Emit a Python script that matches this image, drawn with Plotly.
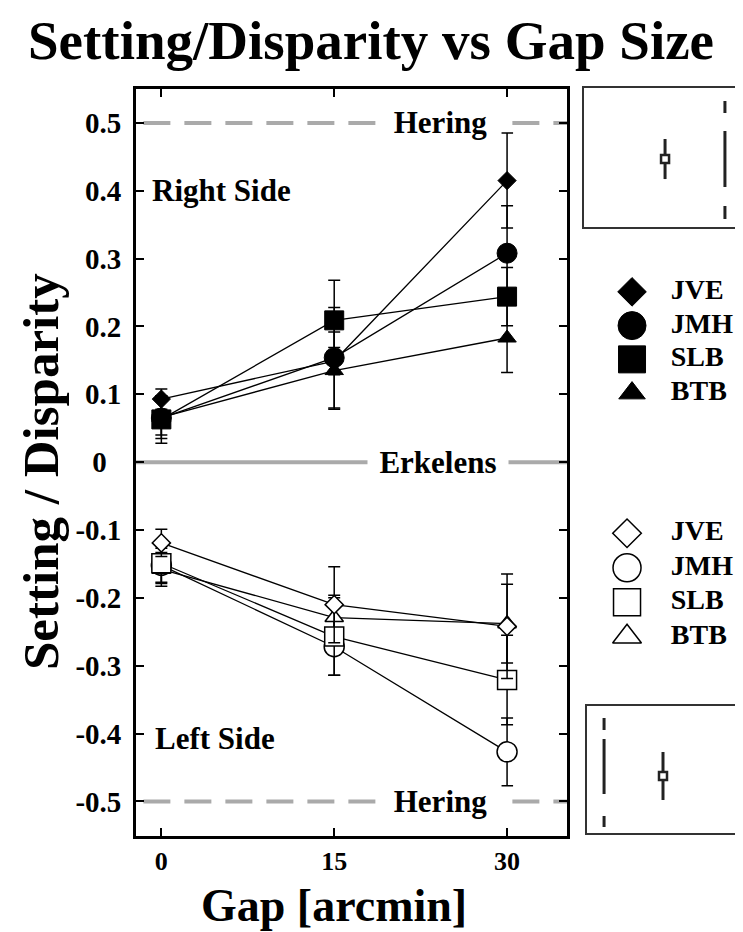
import plotly.graph_objects as go

# ---------------- data ----------------
gap = [0, 15, 30]
subjects = ["JVE", "JMH", "SLB", "BTB"]

right_vals = {
    "JVE": [0.093, 0.149, 0.415],
    "JMH": [0.065, 0.154, 0.308],
    "SLB": [0.063, 0.209, 0.244],
    "BTB": [0.066, 0.135, 0.183],
}
right_err = {
    "JVE": [0.015, 0.020, 0.070],
    "JMH": [0.025, 0.074, 0.070],
    "SLB": [0.035, 0.059, 0.043],
    "BTB": [0.031, 0.057, 0.051],
}
left_vals = {
    "JVE": [-0.119, -0.210, -0.242],
    "JMH": [-0.152, -0.272, -0.427],
    "SLB": [-0.149, -0.257, -0.321],
    "BTB": [-0.158, -0.229, -0.238],
}
left_err = {
    "JVE": [0.020, 0.056, 0.077],
    "JMH": [0.025, 0.042, 0.050],
    "SLB": [0.030, 0.057, 0.066],
    "BTB": [0.025, 0.033, 0.058],
}
y_ticks = [0.5, 0.4, 0.3, 0.2, 0.1, 0, -0.1, -0.2, -0.3, -0.4, -0.5]
y_ticklabels = ["0.5", "0.4", "0.3", "0.2", "0.1", "0\u2007", "-0.1", "-0.2", "-0.3", "-0.4", "-0.5"]
x_ticklabels = ["0", "15", "30"]
hering_levels = [0.5, -0.5]
erkelens_level = 0

# inset schematics (fractions of each inset box)
inset_top_point = [0.513, 0.489]
inset_top_err = 0.144
inset_top_ref = [0.892, 0.058, 0.906]
inset_bot_point = [0.481, 0.449]
inset_bot_err = 0.189
inset_bot_ref = [0.108, 0.047, 0.906]

# --------------- styling ---------------
FONT = "Liberation Serif"
OFF = 8                      # page body margin
W, H = 743 - OFF, 932 - OFF
symbols = {"JVE": "diamond", "JMH": "circle", "SLB": "square", "BTB": "triangle-up"}
plot_sizes = {"JVE": 14, "JMH": 20, "SLB": 19, "BTB": 16}
leg_sizes_f = {"JVE": 22, "JMH": 28, "SLB": 27, "BTB": 23}
leg_sizes_o = {"JVE": 22, "JMH": 28, "SLB": 27, "BTB": 25}


def px(xp):
    return (xp - OFF) / W


def py(yp):
    return 1 - (yp - OFF) / H


def ann(**kw):
    base = dict(xref="paper", yref="paper", showarrow=False,
                xanchor="center", yanchor="middle")
    base.update(kw)
    fig.add_annotation(**base)


fig = go.Figure()

# right side (filled) – draw order for overlaps
for s in ["BTB", "JMH", "JVE", "SLB"]:
    fig.add_trace(go.Scatter(
        x=gap, y=right_vals[s], mode="lines+markers",
        line=dict(color="black", width=1.3),
        marker=dict(symbol=symbols[s], size=plot_sizes[s], color="black",
                    line=dict(color="black", width=1)),
        error_y=dict(type="data", array=right_err[s], color="black",
                     thickness=1.5, width=6),
        showlegend=False, xaxis="x", yaxis="y"))

# left side (open)
for s in ["JMH", "BTB", "SLB", "JVE"]:
    fig.add_trace(go.Scatter(
        x=gap, y=left_vals[s], mode="lines+markers",
        line=dict(color="black", width=1.3),
        marker=dict(symbol=symbols[s], size=plot_sizes[s], color="white",
                    line=dict(color="black", width=1.5)),
        error_y=dict(type="data", array=left_err[s], color="black",
                     thickness=1.5, width=6),
        showlegend=False, xaxis="x", yaxis="y"))

# reference lines
for lv in hering_levels:
    fig.add_shape(type="line", xref="x", yref="y", x0=-1.56, x1=35.2, y0=lv, y1=lv,
                  line=dict(color="#aaaaaa", width=4, dash="27px,14px"), layer="below")
    ann(x=24.2, y=lv, xref="x", yref="y", text="<b>Hering</b>",
        bgcolor="white", width=121, borderpad=0,
        font=dict(family=FONT, size=31, color="black"))
fig.add_shape(type="line", xref="x", yref="y", x0=-2.2, x1=35.2,
              y0=erkelens_level, y1=erkelens_level,
              line=dict(color="#aaaaaa", width=4), layer="below")
ann(x=24.0, y=erkelens_level, xref="x", yref="y", text="<b>Erkelens</b>",
    bgcolor="white", width=140, borderpad=0,
    font=dict(family=FONT, size=31, color="black"))

# side labels
ann(x=px(150), y=py(190), xanchor="left", text="<b>Right Side</b>",
    font=dict(family=FONT, size=31, color="black"))
ann(x=px(153), y=py(738), xanchor="left", text="<b>Left Side</b>",
    font=dict(family=FONT, size=31, color="black"))

# legends
leg_idx = list(range(len(subjects)))
fig.add_trace(go.Scatter(
    x=[0.224] * 4, y=leg_idx, mode="markers", xaxis="x4", yaxis="y4",
    marker=dict(symbol=[symbols[s] for s in subjects], size=[leg_sizes_f[s] for s in subjects],
                color="black", opacity=1, line=dict(color="black", width=1)),
    showlegend=False, hoverinfo="skip"))
fig.add_trace(go.Scatter(
    x=[0.495] * 4, y=leg_idx, mode="text", xaxis="x4", yaxis="y4",
    text=[f"<b>{s}</b>" for s in subjects], textposition="middle right",
    textfont=dict(family=FONT, size=28, color="black"), showlegend=False, hoverinfo="skip"))
fig.add_trace(go.Scatter(
    x=[0.189] * 4, y=leg_idx, mode="markers", xaxis="x4", yaxis="y5",
    marker=dict(symbol=[symbols[s] for s in subjects], size=[leg_sizes_o[s] for s in subjects],
                color="white", opacity=1, line=dict(color="black", width=1.5)),
    showlegend=False, hoverinfo="skip"))
fig.add_trace(go.Scatter(
    x=[0.495] * 4, y=leg_idx, mode="text", xaxis="x4", yaxis="y5",
    text=[f"<b>{s}</b>" for s in subjects], textposition="middle right",
    textfont=dict(family=FONT, size=28, color="black"), showlegend=False, hoverinfo="skip"))

# insets
fig.add_trace(go.Scatter(
    x=[inset_top_point[0]], y=[inset_top_point[1]], mode="markers", xaxis="x2", yaxis="y2",
    marker=dict(symbol="square", size=8, color="white", line=dict(color="#222", width=2.5)),
    error_y=dict(type="constant", value=inset_top_err, color="#222", thickness=3, width=0),
    showlegend=False, hoverinfo="skip"))
fig.add_trace(go.Scatter(
    x=[inset_top_ref[0], inset_top_ref[0]], y=[inset_top_ref[2], inset_top_ref[1]],
    mode="lines", xaxis="x2", yaxis="y2",
    line=dict(color="#222", width=3, dash="12px,18px,56px,19px,13px"),
    showlegend=False, hoverinfo="skip"))
fig.add_trace(go.Scatter(
    x=[inset_bot_point[0]], y=[inset_bot_point[1]], mode="markers", xaxis="x3", yaxis="y3",
    marker=dict(symbol="square", size=8, color="white", line=dict(color="#222", width=2.5)),
    error_y=dict(type="constant", value=inset_bot_err, color="#222", thickness=3, width=0),
    showlegend=False, hoverinfo="skip"))
fig.add_trace(go.Scatter(
    x=[inset_bot_ref[0], inset_bot_ref[0]], y=[inset_bot_ref[2], inset_bot_ref[1]],
    mode="lines", xaxis="x3", yaxis="y3",
    line=dict(color="#222", width=3, dash="12px,9px,55px,22px,12px"),
    showlegend=False, hoverinfo="skip"))

# titles
ann(x=px(371), y=py(40), text="<b>Setting/Disparity vs Gap Size</b>",
    font=dict(family=FONT, size=55, color="black"))
ann(x=px(41), y=py(472), textangle=-90, text="<b>Setting / Disparity</b>",
    font=dict(family=FONT, size=51, color="black"))
ann(x=px(334), y=py(905), text="<b>Gap [arcmin]</b>",
    font=dict(family=FONT, size=46, color="black"))

axis_common = dict(showgrid=False, zeroline=False, showline=True, linecolor="black",
                   linewidth=2.8, mirror="ticks", ticks="inside", ticklen=8,
                   tickwidth=1.5, tickcolor="black", automargin=False)
hidden = dict(visible=False, showgrid=False, zeroline=False, fixedrange=True,
              automargin=False)
inset_ax = dict(showline=True, linecolor="#333", linewidth=2, showticklabels=False,
                ticks="", showgrid=False, zeroline=False, automargin=False)

fig.update_layout(
    template="none",
    width=W, height=H, margin=dict(l=0, r=0, t=0, b=0, autoexpand=False),
    paper_bgcolor="white", plot_bgcolor="white", showlegend=False,
    xaxis=dict(domain=[px(136), px(567)], range=[-2.2, 35.2], tickvals=gap,
               ticktext=[f"<b>{t}</b>" for t in x_ticklabels],
               tickfont=dict(family=FONT, size=26, color="black"),
               ticklabelstandoff=0, anchor="y", **axis_common),
    yaxis=dict(domain=[py(836), py(89)], range=[-0.551, 0.55], tickvals=y_ticks,
               ticktext=[f"<b>{t}</b>" for t in y_ticklabels],
               tickfont=dict(family=FONT, size=29, color="black"),
               ticklabelstandoff=6, anchor="x", **axis_common),
    xaxis2=dict(domain=[px(584), px(742)], range=[0, 1], anchor="y2", mirror=True, **inset_ax),
    yaxis2=dict(domain=[py(227), py(88)], range=[0, 1], anchor="x2", mirror=True, **inset_ax),
    xaxis3=dict(domain=[px(587), 1], range=[0, 156 / 158], anchor="y3", mirror=True, **inset_ax),
    yaxis3=dict(domain=[py(833), py(706)], range=[0, 1], anchor="x3", mirror=False, **inset_ax),
    xaxis4=dict(domain=[px(600), 1], range=[0, 1], anchor="y4", **hidden),
    yaxis4=dict(domain=[py(410), py(275)], range=[3.5, -0.5], anchor="x4", **hidden),
    yaxis5=dict(domain=[py(654), py(516)], range=[3.5, -0.5], anchor="x4", **hidden),
)

fig.write_html("out.html")
